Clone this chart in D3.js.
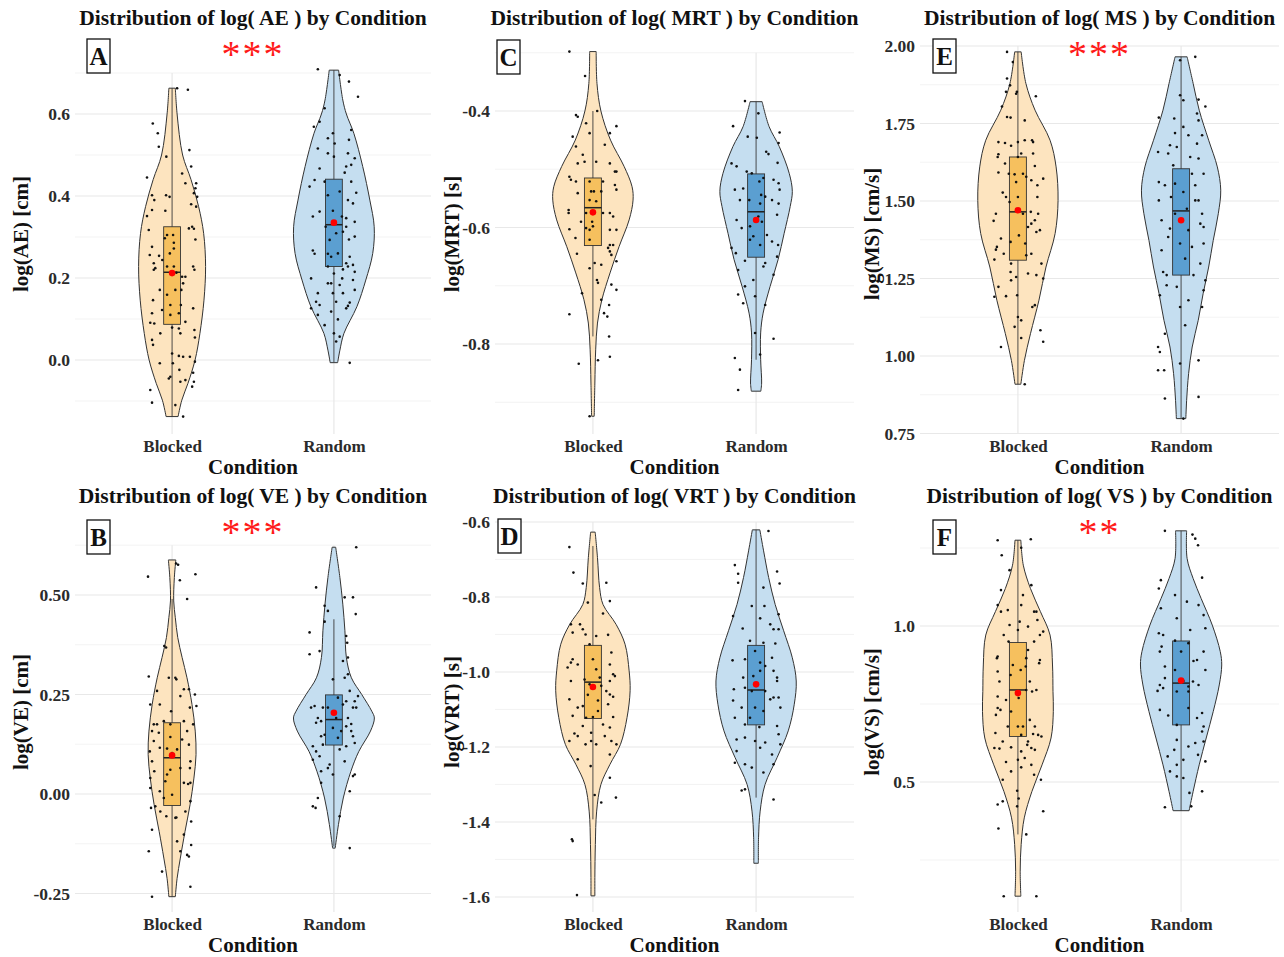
<!DOCTYPE html>
<html>
<head>
<meta charset="utf-8">
<script src="https://cdnjs.cloudflare.com/ajax/libs/d3/7.8.5/d3.min.js"></script>
<style>
  body { margin: 0; background: #fff; }
  text { font-family: "Liberation Serif", "Times New Roman", serif; font-weight: bold; }
</style>
</head>
<body>
<div id="chart"></div>
<script>
// ---------- data ----------
const conditions = ["Blocked", "Random"]
const panelLetters = ["A", "C", "E", "B", "D", "F"]
const metrics = ["AE", "MRT", "MS", "VE", "VRT", "VS"]
const units = ["cm", "s", "cm/s", "cm", "s", "cm/s"]
const stars = ["***", "", "***", "***", "", "**"]

const yLimits = [
  [-0.1805, 0.7976], [-0.9545, -0.2661], [0.7484, 2.0419],
  [-0.2965, 0.711], [-1.64, -0.5707], [0.0833, 1.3686]
]
const majorTicks = [
  [0, 0.2, 0.4, 0.6], [-0.8, -0.6, -0.4], [0.75, 1, 1.25, 1.5, 1.75, 2],
  [-0.25, 0, 0.25, 0.5], [-1.6, -1.4, -1.2, -1, -0.8, -0.6], [0.5, 1]
]
const tickLabels = [
  ["0.0", "0.2", "0.4", "0.6"], ["-0.8", "-0.6", "-0.4"], ["0.75", "1.00", "1.25", "1.50", "1.75", "2.00"],
  ["-0.25", "0.00", "0.25", "0.50"], ["-1.6", "-1.4", "-1.2", "-1.0", "-0.8", "-0.6"], ["0.5", "1.0"]
]
const minorTicks = [
  [-0.1, 0.1, 0.3, 0.5, 0.7], [-0.9, -0.7, -0.5, -0.3], [0.875, 1.125, 1.375, 1.625, 1.875],
  [-0.125, 0.125, 0.375, 0.625], [-1.5, -1.3, -1.1, -0.9, -0.7], [0.25, 0.75, 1.25]
]

// violin outline: [value, half width as share of category step]
const violinBlocked = [
  [[0.663,0.02],[0.6,0.031],[0.5,0.065],[0.44,0.117],[0.374,0.164],[0.309,0.195],[0.228,0.207],[0.146,0.197],[0.065,0.172],[0,0.142],[-0.057,0.098],[-0.098,0.06],[-0.138,0.037]],
  [[-0.298,0.02],[-0.353,0.025],[-0.4,0.049],[-0.45,0.108],[-0.495,0.191],[-0.53,0.24],[-0.553,0.246],[-0.587,0.222],[-0.633,0.16],[-0.678,0.105],[-0.724,0.055],[-0.764,0.028],[-0.81,0.017],[-0.867,0.012],[-0.924,0.008]],
  [[1.981,0.02],[1.879,0.049],[1.793,0.105],[1.696,0.197],[1.61,0.234],[1.502,0.246],[1.395,0.228],[1.287,0.172],[1.18,0.129],[1.072,0.077],[0.986,0.04],[0.909,0.018]],
  [[0.588,0.023],[0.544,0.014],[0.485,0.01],[0.443,0.02],[0.393,0.035],[0.343,0.062],[0.292,0.092],[0.225,0.123],[0.158,0.143],[0.099,0.148],[0.04,0.135],[-0.027,0.111],[-0.094,0.08],[-0.161,0.051],[-0.212,0.031],[-0.258,0.02]],
  [[-0.627,0.014],[-0.695,0.028],[-0.775,0.041],[-0.82,0.062],[-0.873,0.142],[-0.926,0.197],[-0.997,0.222],[-1.05,0.228],[-1.122,0.209],[-1.193,0.169],[-1.246,0.105],[-1.3,0.049],[-1.371,0.023],[-1.46,0.015],[-1.548,0.012],[-1.597,0.012]],
  [[1.275,0.018],[1.195,0.033],[1.12,0.077],[1.046,0.138],[0.971,0.197],[0.875,0.212],[0.79,0.215],[0.726,0.217],[0.641,0.203],[0.555,0.148],[0.47,0.086],[0.385,0.039],[0.3,0.02],[0.214,0.014],[0.134,0.018]]
]
const violinRandom = [
  [[0.707,0.029],[0.634,0.055],[0.6,0.077],[0.553,0.123],[0.472,0.178],[0.39,0.222],[0.325,0.249],[0.26,0.24],[0.195,0.197],[0.13,0.142],[0.065,0.062],[0.024,0.037],[-0.0065,0.023]],
  [[-0.384,0.037],[-0.427,0.08],[-0.461,0.142],[-0.507,0.203],[-0.538,0.222],[-0.564,0.209],[-0.61,0.172],[-0.655,0.135],[-0.701,0.086],[-0.747,0.043],[-0.781,0.028],[-0.827,0.028],[-0.867,0.034],[-0.881,0.029]],
  [[1.965,0.037],[1.879,0.074],[1.793,0.111],[1.696,0.169],[1.61,0.222],[1.535,0.243],[1.459,0.228],[1.373,0.197],[1.287,0.169],[1.201,0.135],[1.115,0.105],[1.029,0.068],[0.943,0.046],[0.857,0.034],[0.798,0.029]],
  [[0.62,0.011],[0.544,0.037],[0.477,0.055],[0.41,0.068],[0.343,0.077],[0.292,0.108],[0.25,0.172],[0.208,0.234],[0.191,0.25],[0.158,0.226],[0.107,0.154],[0.057,0.105],[-0.01,0.058],[-0.077,0.028],[-0.136,0.008]],
  [[-0.621,0.023],[-0.677,0.046],[-0.748,0.077],[-0.82,0.117],[-0.89,0.169],[-0.962,0.222],[-1.024,0.246],[-1.086,0.234],[-1.157,0.197],[-1.228,0.129],[-1.3,0.055],[-1.371,0.025],[-1.442,0.015],[-1.51,0.014]],
  [[1.305,0.034],[1.216,0.037],[1.152,0.074],[1.088,0.123],[1.003,0.191],[0.918,0.24],[0.875,0.249],[0.811,0.234],[0.726,0.197],[0.641,0.154],[0.555,0.111],[0.47,0.074],[0.408,0.049]]
]

// box: [lower whisker, q1, median, q3, upper whisker]
const boxBlocked = [
  [-0.138, 0.087, 0.214, 0.325, 0.663], [-0.787, -0.631, -0.566, -0.515, -0.4], [0.909, 1.309, 1.465, 1.642, 1.981],
  [-0.258, -0.029, 0.091, 0.179, 0.49], [-1.393, -1.124, -1.027, -0.929, -0.664], [0.332, 0.646, 0.795, 0.947, 1.275]
]
const boxRandom = [
  [-0.005, 0.228, 0.33, 0.441, 0.707], [-0.827, -0.651, -0.573, -0.508, -0.384], [0.798, 1.261, 1.468, 1.604, 1.965],
  [-0.132, 0.123, 0.187, 0.249, 0.439], [-1.335, -1.141, -1.048, -0.929, -0.621], [0.408, 0.683, 0.817, 0.952, 1.305]
]
const meanBlocked = [0.212, -0.574, 1.47, 0.097, -1.04, 0.785]
const meanRandom = [0.335, -0.587, 1.438, 0.204, -1.033, 0.825]

// raw observations: [jitter (-1..1), value]
const pointsBlocked = [
  [[0.2,0.663],[0.63,0.659],[-0.77,0.577],[-0.57,0.553],[-0.53,0.52],[0.69,0.512],[-0.23,0.496],[-1,0.445],[0.4,0.455],[0.76,0.472],[0.53,0.431],[0.96,0.431],[0.93,0.419],[-0.8,0.402],[-0.24,0.402],[-0.1,0.398],[0.87,0.407],[1,0.398],[-0.71,0.39],[-0.27,0.364],[-0.8,0.366],[0.76,0.38],[-1,0.351],[0.96,0.374],[0.8,0.325],[0.67,0.321],[0.87,0.32],[-0.93,0.317],[-0.2,0.305],[0.04,0.305],[-0.29,0.297],[0.07,0.286],[0.93,0.294],[-0.8,0.276],[-0.89,0.256],[-0.52,0.254],[-0.09,0.26],[0.07,0.272],[-0.73,0.236],[-0.67,0.224],[-0.39,0.244],[0.84,0.228],[0.89,0.22],[-0.73,0.22],[-0.2,0.228],[0.07,0.228],[0.17,0.213],[0.4,0.203],[0.53,0.203],[0.44,0.187],[0.37,0.171],[0.13,0.171],[-0.49,0.171],[-0.76,0.146],[-0.2,0.159],[-0.07,0.134],[0.35,0.134],[0.27,0.114],[-0.07,0.11],[-0.4,0.122],[-0.8,0.114],[0.84,0.126],[0.53,0.093],[-0.87,0.091],[-0.71,0.089],[0,0.079],[-0.47,0.065],[0.89,0.073],[0.27,0.077],[-0.8,0.049],[0.33,0.065],[-0.76,0.037],[0.91,0.055],[0,0.016],[0.27,0.01],[0.44,0.008],[0.71,0.008],[-0.49,-0.008],[0.03,-0.008],[0.91,-0.004],[0.29,-0.024],[-0.07,-0.041],[0.84,-0.031],[0.33,-0.053],[0.53,-0.049],[0.87,-0.053],[-0.87,-0.073],[0.8,-0.065],[-0.13,-0.045],[-0.8,-0.104],[0.13,-0.11],[0.44,-0.138]],
  [[-0.93,-0.298],[-0.31,-0.34],[-0.67,-0.407],[-0.6,-0.41],[0.17,-0.4],[0.93,-0.426],[-0.8,-0.444],[-0.27,-0.421],[-0.13,-0.438],[-0.67,-0.461],[0.47,-0.458],[0.67,-0.438],[-0.4,-0.475],[0.13,-0.487],[-0.6,-0.49],[-0.33,-0.487],[0.67,-0.49],[0.87,-0.504],[0.93,-0.504],[-0.93,-0.513],[-0.87,-0.518],[-0.67,-0.521],[-0.13,-0.521],[0.4,-0.521],[0.33,-0.538],[0.87,-0.527],[-0.07,-0.538],[0.04,-0.538],[-0.6,-0.541],[0.93,-0.535],[-0.13,-0.553],[-0.96,-0.57],[-0.96,-0.575],[-0.27,-0.575],[0.13,-0.555],[0.4,-0.575],[0.67,-0.575],[0.8,-0.581],[-0.03,-0.59],[-0.47,-0.59],[-0.93,-0.603],[-0.27,-0.601],[0,-0.598],[-0.13,-0.604],[0.67,-0.604],[0.93,-0.604],[-0.69,-0.618],[-0.13,-0.621],[0.67,-0.63],[0.8,-0.63],[0.6,-0.635],[0.67,-0.641],[0.73,-0.647],[-0.63,-0.645],[0.93,-0.658],[-0.13,-0.67],[0.07,-0.661],[0.33,-0.664],[-0.43,-0.713],[0.16,-0.69],[0.2,-0.695],[0.73,-0.698],[0.93,-0.707],[0.33,-0.724],[0.44,-0.747],[0.64,-0.733],[0.57,-0.753],[-0.93,-0.749],[0.64,-0.787],[0.67,-0.822],[-0.56,-0.834],[0.2,-0.828],[-0.13,-0.924]],
  [[-0.43,1.981],[-0.2,1.948],[-0.43,1.895],[-0.31,1.873],[-0.47,1.852],[-0.04,1.852],[0.71,1.838],[-0.07,1.846],[-0.63,1.805],[-0.43,1.771],[-0.29,1.769],[0.27,1.76],[0.27,1.696],[-0.77,1.69],[-0.51,1.687],[0,1.69],[0.56,1.696],[0.6,1.69],[-0.27,1.678],[-0.77,1.651],[-0.8,1.642],[0.13,1.653],[0.6,1.653],[-0.51,1.621],[0,1.642],[0.67,1.613],[-0.77,1.592],[-0.36,1.588],[-0.13,1.586],[0.2,1.588],[0.33,1.578],[0.53,1.567],[1,1.572],[0.77,1.551],[-0.07,1.561],[-0.6,1.527],[-0.47,1.513],[0,1.513],[-0.33,1.497],[0.77,1.513],[-0.87,1.459],[-0.96,1.436],[0.2,1.459],[0.51,1.465],[0.8,1.459],[0.67,1.438],[0.53,1.427],[0.87,1.406],[0.73,1.4],[0.4,1.416],[-0.67,1.379],[-0.83,1.352],[-0.29,1.368],[0.04,1.389],[0.29,1.363],[-0.87,1.343],[-0.56,1.33],[0.33,1.325],[0.53,1.33],[-0.93,1.311],[-0.27,1.298],[0.93,1.298],[-0.29,1.271],[-0.07,1.255],[-0.27,1.244],[0.4,1.266],[0.73,1.261],[1,1.25],[-0.77,1.223],[-0.93,1.191],[-0.47,1.193],[-0.03,1.196],[0.67,1.164],[0.57,1.158],[0,1.126],[0.13,1.115],[-0.13,1.094],[0.89,1.083],[-0.67,1.029],[1,1.046],[0.13,1.058],[0.27,0.909]],
  [[0.16,0.579],[0.24,0.576],[-0.96,0.546],[0.93,0.552],[0.31,0.537],[0.6,0.49],[-0.31,0.372],[-0.24,0.368],[-0.93,0.295],[-0.87,0.225],[-0.13,0.292],[0.13,0.292],[0.17,0.288],[0.47,0.263],[0.67,0.263],[0.91,0.25],[-0.6,0.259],[-0.49,0.225],[0.33,0.246],[-0.04,0.208],[0.71,0.217],[0.97,0.221],[-0.73,0.175],[-0.6,0.175],[-0.33,0.183],[-0.07,0.175],[0.47,0.183],[0.84,0.175],[0.4,0.137],[-0.8,0.158],[-0.73,0.133],[-0.53,0.154],[-0.07,0.143],[0.6,0.158],[0.67,0.124],[-0.49,0.116],[-0.89,0.107],[-0.2,0.114],[0,0.103],[0.2,0.112],[0.73,0.082],[-0.8,0.082],[-0.71,0.057],[0.33,0.065],[0.71,0.065],[-0.07,0.061],[-0.2,0.049],[-0.87,0.04],[0.73,0.028],[-0.27,0.032],[0.47,0.028],[0.64,0.025],[-0.87,0.015],[-0.49,0.007],[0,-0.002],[-0.33,-0.01],[-0.84,-0.035],[-0.67,-0.031],[0.73,-0.018],[-0.47,-0.044],[-0.23,-0.056],[0.17,-0.059],[0.13,-0.06],[0.53,-0.044],[0.76,-0.069],[-0.8,-0.09],[0.47,-0.102],[0.76,-0.128],[0.2,-0.119],[0.33,-0.144],[0.6,-0.153],[0.67,-0.157],[-0.93,-0.144],[-0.4,-0.195],[0.73,-0.233],[-0.8,-0.258]],
  [[-0.93,-0.667],[-0.77,-0.735],[-0.4,-0.764],[0.53,-0.762],[-0.2,-0.815],[0.67,-0.811],[0.4,-0.844],[-0.51,-0.873],[-0.87,-0.873],[-0.8,-0.895],[-0.4,-0.886],[-0.29,-0.9],[0.13,-0.904],[0.6,-0.901],[0.73,-0.948],[-0.13,-0.926],[-0.8,-0.966],[-0.6,-0.98],[-0.87,-0.975],[0,-0.966],[0.67,-0.98],[0.13,-0.993],[0.8,-1.006],[-1,-0.988],[-0.87,-1.024],[-0.33,-1.02],[0.27,-1.015],[0.87,-1.011],[-0.13,-1.033],[0.67,-1.024],[0.33,-1.037],[0.53,-1.051],[-0.2,-1.061],[0.67,-1.06],[0.8,-1.066],[-0.93,-1.073],[0.2,-1.076],[0.6,-1.086],[-0.4,-1.091],[-0.6,-1.095],[-0.8,-1.117],[0.2,-1.104],[-0.27,-1.122],[0,-1.12],[0.8,-1.12],[0.67,-1.148],[-0.4,-1.144],[0.4,-1.14],[-0.73,-1.164],[-0.93,-1.184],[-0.6,-1.171],[-0.07,-1.162],[0.47,-1.171],[0.73,-1.184],[-0.29,-1.193],[-0.07,-1.184],[0.13,-1.193],[0.93,-1.193],[-0.6,-1.233],[0.67,-1.22],[-0.09,-1.251],[0.67,-1.282],[0.07,-1.328],[0.33,-1.348],[0.91,-1.335],[-0.83,-1.446],[-0.8,-1.451],[-0.63,-1.595]],
  [[-0.8,1.275],[0.51,1.278],[-0.64,1.227],[0.13,1.251],[-0.33,1.179],[-0.67,1.115],[0.53,1.131],[0.2,1.099],[-0.8,1.067],[0.13,1.067],[-0.4,1.051],[-0.67,1.046],[0.64,1.046],[0.73,1.046],[0.77,1.019],[-0.33,1.003],[0.07,1.014],[0.4,0.998],[1,0.982],[0.87,0.971],[0,0.987],[-0.56,0.971],[-0.37,0.95],[0.64,0.95],[0.4,0.923],[0.33,0.897],[-0.8,0.902],[-0.83,0.897],[0.87,0.891],[0.84,0.881],[-0.2,0.875],[0.31,0.87],[0.11,0.859],[-0.8,0.854],[-0.29,0.843],[-0.73,0.822],[0.47,0.822],[0.73,0.795],[0.33,0.795],[-0.8,0.774],[0,0.79],[0.03,0.769],[-0.47,0.763],[0.56,0.79],[-0.8,0.737],[-0.69,0.731],[-0.87,0.715],[-0.27,0.726],[0.47,0.699],[-0.4,0.678],[0,0.678],[0.2,0.678],[0.67,0.678],[-0.89,0.657],[0.13,0.651],[0.6,0.654],[0.8,0.651],[0.93,0.646],[-0.6,0.63],[0.4,0.63],[0.37,0.619],[0.53,0.609],[-0.93,0.609],[-0.73,0.607],[-0.27,0.611],[0.13,0.598],[0.67,0.603],[-0.47,0.564],[0,0.571],[0.27,0.577],[0.13,0.547],[0.53,0.555],[-0.27,0.534],[0.64,0.523],[0.91,0.507],[-0.6,0.507],[-0.03,0.472],[0.03,0.447],[-0.8,0.428],[-0.6,0.438],[-0.03,0.422],[1,0.406],[-0.77,0.351],[0.33,0.332],[-0.56,0.134],[0.73,0.134]]
]
const pointsRandom = [
  [[-0.64,0.709],[0.23,0.695],[0.6,0.679],[0.96,0.642],[-0.37,0.614],[-0.57,0.581],[-0.8,0.569],[-0.04,0.553],[0.69,0.561],[-0.24,0.541],[0.6,0.537],[-0.64,0.516],[0.56,0.504],[0,0.496],[0.83,0.492],[0.69,0.476],[0.49,0.472],[-0.57,0.467],[0.43,0.457],[0.03,0.528],[-0.24,0.504],[-0.77,0.439],[-0.37,0.435],[0.69,0.435],[0.89,0.408],[0.23,0.411],[-0.97,0.423],[-0.24,0.402],[0.56,0.39],[0.76,0.382],[-0.84,0.35],[-0.57,0.362],[-0.04,0.364],[0.32,0.35],[0.49,0.346],[0.83,0.337],[-0.33,0.325],[0.49,0.325],[0.36,0.313],[0.6,0.294],[0.09,0.309],[-0.17,0.293],[0.83,0.301],[-0.84,0.267],[-0.77,0.259],[-0.24,0.259],[-0.11,0.252],[0.16,0.26],[0.63,0.252],[0.49,0.236],[0.76,0.232],[-0.24,0.228],[0.36,0.221],[0.56,0.228],[0,0.211],[0.83,0.215],[-0.91,0.199],[-0.24,0.187],[-0.11,0.187],[0.23,0.183],[0.33,0.199],[0.76,0.195],[-0.64,0.163],[0.36,0.163],[-0.04,0.163],[0.83,0.171],[-0.71,0.142],[0.09,0.142],[0.63,0.14],[-0.91,0.126],[-0.64,0.11],[-0.57,0.134],[0.56,0.132],[0.49,0.126],[-0.37,0.085],[-0.11,0.118],[0.16,0.099],[0,0.065],[0.23,0.057],[0.09,0.045],[0.63,-0.007]],
  [[-0.44,-0.383],[0.09,-0.404],[-0.91,-0.426],[0.93,-0.437],[0.89,-0.455],[-0.33,-0.444],[0.03,-0.446],[0.4,-0.47],[0.49,-0.474],[0.85,-0.489],[-0.97,-0.49],[-0.77,-0.495],[-0.37,-0.504],[-0.17,-0.507],[0.29,-0.515],[0.69,-0.518],[0.89,-0.524],[0.93,-0.535],[0.13,-0.521],[-0.84,-0.535],[-0.51,-0.533],[0.2,-0.544],[-0.64,-0.553],[0.36,-0.547],[0.63,-0.553],[-0.27,-0.553],[0.16,-0.559],[0.89,-0.559],[0.83,-0.578],[-0.77,-0.587],[-0.57,-0.601],[-0.24,-0.598],[0.09,-0.581],[0.23,-0.59],[-0.11,-0.615],[0.43,-0.613],[0.87,-0.63],[0.63,-0.624],[-0.97,-0.635],[-0.8,-0.644],[-0.24,-0.621],[0.16,-0.63],[0.83,-0.65],[-0.44,-0.657],[0.29,-0.667],[0.36,-0.661],[-0.71,-0.673],[-0.11,-0.69],[-0.44,-0.701],[-0.71,-0.715],[0.69,-0.681],[-0.04,-0.718],[-0.51,-0.73],[0.36,-0.733],[0.69,-0.791],[-0.04,-0.781],[-0.84,-0.824],[-0.64,-0.844],[0.16,-0.818],[-0.71,-0.879]],
  [[0.56,1.965],[-0.04,1.954],[-0.04,1.841],[0.09,1.825],[0.69,1.827],[0.96,1.805],[0.63,1.782],[-0.27,1.766],[0.69,1.76],[-0.88,1.769],[0.09,1.739],[-0.24,1.719],[0.29,1.712],[0.83,1.712],[0.63,1.685],[-0.44,1.68],[-0.17,1.674],[-0.91,1.658],[-0.51,1.653],[0.36,1.642],[0.69,1.637],[-0.31,1.615],[0.43,1.588],[0.89,1.588],[-0.88,1.561],[-0.64,1.551],[-0.24,1.556],[0.56,1.551],[0.09,1.529],[0.56,1.502],[0.69,1.502],[0.83,1.459],[-0.88,1.502],[-0.4,1.513],[-0.24,1.459],[-0.77,1.438],[0.23,1.475],[0.76,1.427],[0.89,1.416],[-0.44,1.411],[0.29,1.406],[-0.51,1.384],[-0.04,1.363],[0.89,1.363],[0.43,1.352],[-0.77,1.341],[0.16,1.314],[0.76,1.298],[-0.71,1.271],[-0.57,1.261],[0.49,1.261],[0.96,1.244],[-0.57,1.228],[-0.17,1.223],[0.89,1.212],[-0.84,1.196],[0.29,1.18],[0.83,1.158],[-0.04,1.158],[-0.64,1.072],[-0.91,1.029],[-0.84,1.013],[0.16,1.099],[-0.04,0.976],[0.69,0.986],[-0.91,0.954],[-0.67,0.954],[-0.64,0.863],[0.69,0.868],[0.09,0.798]],
  [[0.89,0.62],[-0.71,0.519],[0.43,0.494],[0.76,0.494],[-0.37,0.473],[-0.24,0.46],[-0.37,0.433],[0.87,0.452],[-0.97,0.406],[0.49,0.397],[0.53,0.38],[-0.57,0.359],[-0.97,0.351],[0.56,0.343],[0.36,0.334],[0.43,0.292],[0.56,0.301],[-0.04,0.288],[0.63,0.259],[0.16,0.242],[0.49,0.233],[0.83,0.233],[0.96,0.246],[-0.77,0.221],[-0.91,0.217],[-0.44,0.217],[-0.24,0.217],[0.36,0.225],[0.76,0.217],[0.89,0.217],[-0.64,0.191],[-0.71,0.179],[-0.51,0.183],[0.09,0.191],[0.56,0.191],[0.69,0.176],[-0.04,0.166],[0.29,0.158],[-0.37,0.149],[-0.51,0.145],[0.16,0.141],[0.49,0.17],[0.69,0.158],[0.76,0.145],[0.83,0.128],[-0.84,0.12],[-0.71,0.107],[-0.44,0.124],[0.49,0.12],[0.23,0.112],[-0.57,0.095],[-0.84,0.086],[-0.17,0.074],[-0.24,0.065],[0.43,0.082],[-0.51,0.057],[-0.04,0.049],[0.83,0.049],[0.76,0.045],[-0.51,0.028],[0.63,0.007],[-0.64,-0.01],[-0.84,-0.031],[-0.73,-0.035],[0.23,-0.056],[0.63,-0.136]],
  [[0.49,-0.624],[-0.84,-0.715],[0.83,-0.732],[-0.71,-0.738],[0.93,-0.764],[-0.71,-0.762],[0.29,-0.775],[-0.17,-0.824],[0.33,-0.824],[0.16,-0.857],[0.89,-0.846],[-0.91,-0.851],[-0.53,-0.884],[0.56,-0.873],[0.69,-0.886],[0.89,-0.886],[-0.24,-0.917],[0.29,-0.922],[-0.04,-0.944],[0.76,-0.924],[-0.93,-0.969],[-0.44,-0.966],[0.16,-0.975],[0.63,-0.962],[0.36,-0.984],[-0.51,-1.015],[-0.11,-1.011],[0.16,-0.997],[0.69,-0.997],[0.83,-1.015],[-0.88,-1.046],[-0.44,-1.042],[-0.17,-1.051],[0.83,-1.024],[0.36,-1.051],[0.89,-1.068],[-0.91,-1.076],[-0.57,-1.095],[-0.04,-1.095],[0.56,-1.073],[0.69,-1.068],[0.96,-1.095],[0.29,-1.104],[-0.84,-1.122],[-0.44,-1.14],[-0.24,-1.122],[0.83,-1.144],[0.13,-1.147],[-0.77,-1.18],[-0.44,-1.175],[-0.04,-1.184],[0.36,-1.188],[0.89,-1.166],[0.96,-1.193],[0.16,-1.202],[0.63,-1.22],[-0.77,-1.211],[-0.44,-1.246],[-0.84,-1.242],[-0.17,-1.255],[0.29,-1.268],[0.69,-1.246],[-0.57,-1.316],[-0.44,-1.313],[0.69,-1.34]],
  [[-0.64,1.305],[0.45,1.293],[0.56,1.28],[0.67,1.259],[0.83,1.155],[-0.8,1.147],[-0.88,1.12],[-0.24,1.099],[0.23,1.078],[0.69,1.067],[0.89,1.035],[-0.8,1.057],[-0.17,1.025],[-0.88,0.977],[-0.71,0.971],[0.36,0.987],[0.96,0.993],[-0.24,0.953],[0.29,0.945],[0.89,0.918],[-0.84,0.918],[-0.77,0.934],[0,0.918],[0.63,0.891],[0.49,0.888],[-0.64,0.87],[0.96,0.859],[-0.24,0.859],[-0.64,0.833],[0.09,0.824],[0.47,0.822],[-0.84,0.811],[-0.71,0.801],[-0.93,0.792],[-0.17,0.79],[0.29,0.806],[0.69,0.811],[0.29,0.79],[-0.84,0.731],[0.29,0.737],[-0.51,0.713],[0.83,0.721],[0.89,0.678],[0.83,0.662],[0.63,0.705],[-0.17,0.683],[-0.17,0.635],[0.56,0.625],[0.29,0.614],[-0.27,0.603],[0.89,0.63],[-0.53,0.582],[0.09,0.571],[0.67,0.587],[0.96,0.566],[-0.17,0.555],[-0.44,0.534],[-0.17,0.518],[0.09,0.513],[0.33,0.465],[0.83,0.47],[-0.64,0.419],[0.4,0.422]]
]

// ---------- layout ----------
let colX = [[75, 431], [495, 854], [920, 1279]]
let rowY = [[434, 33], [912, 511]]
let letterPos = [[87, 39], [497, 40], [933, 39], [87, 520], [498, 519], [933, 520]]
let yTitleX = [21, 452, 872]
let violinFill = {Blocked: "#fde4bf", Random: "#c5def0"}
let boxFill = {Blocked: "#f6c05e", Random: "#5b9fd1"}
let jitterWidth = 0.155
let boxHalf = 0.052

let svg = d3.select("#chart")
  .append("svg")
  .attr("width", 1284)
  .attr("height", 957)

panelLetters.forEach((letter, i) => {
  let col = i % 3, row = Math.floor(i / 3)
  let [x0, x1] = colX[col]
  let [yb, yt] = rowY[row]
  let off = row * 478

  let x = d3.scalePoint().domain(conditions).range([x0, x1]).padding(0.6)
  let y = d3.scaleLinear().domain(yLimits[i]).range([yb, yt])
  let step = x.step()
  let g = svg.append("g")

  // grid
  let topTick = d3.max(majorTicks[i].concat(minorTicks[i]))
  g.selectAll(".minor").data(minorTicks[i]).enter().append("line")
    .attr("x1", x0).attr("x2", x1)
    .attr("y1", d => y(d)).attr("y2", d => y(d))
    .attr("stroke", "#f0f0f0").attr("stroke-width", 0.8)
  g.selectAll(".major").data(majorTicks[i]).enter().append("line")
    .attr("x1", x0).attr("x2", x1)
    .attr("y1", d => y(d)).attr("y2", d => y(d))
    .attr("stroke", "#e8e8e8").attr("stroke-width", 1.2)
  g.selectAll(".vgrid").data(conditions).enter().append("line")
    .attr("x1", d => x(d)).attr("x2", d => x(d))
    .attr("y1", y(topTick)).attr("y2", yb)
    .attr("stroke", "#e8e8e8").attr("stroke-width", 1.2)

  // axes
  let ya = g.append("g")
    .attr("transform", "translate(" + x0 + ",0)")
    .call(d3.axisLeft(y).tickValues(majorTicks[i]).tickFormat((d, k) => tickLabels[i][k]).tickSize(0).tickPadding(5))
  ya.select(".domain").remove()
  ya.selectAll("text").style("font-size", "17.5px").attr("fill", "#2b2b2b")
    .style("font-family", "Liberation Serif").style("font-weight", "bold")

  let xa = g.append("g")
    .attr("transform", "translate(0," + yb + ")")
    .call(d3.axisBottom(x).tickSize(0).tickPadding(6))
  xa.select(".domain").remove()
  xa.selectAll("text").style("font-size", "17px").attr("fill", "#2b2b2b")
    .style("font-family", "Liberation Serif").style("font-weight", "bold")

  // violins, boxes, points
  conditions.forEach(c => {
    let cx = x(c)
    let prof = (c == "Blocked" ? violinBlocked : violinRandom)[i]
    let box = (c == "Blocked" ? boxBlocked : boxRandom)[i]
    let mean = (c == "Blocked" ? meanBlocked : meanRandom)[i]
    let pts = (c == "Blocked" ? pointsBlocked : pointsRandom)[i]

    let area = d3.area()
      .curve(d3.curveCatmullRom.alpha(0.5))
      .y(d => y(d[0]))
      .x0(d => cx - d[1] * step)
      .x1(d => cx + d[1] * step)
    g.append("path")
      .attr("d", area(prof) + "Z")
      .attr("fill", violinFill[c])
      .attr("stroke", "#333")
      .attr("stroke-width", 1)

    // whisker
    g.append("line")
      .attr("x1", cx).attr("x2", cx)
      .attr("y1", y(box[0])).attr("y2", y(box[4]))
      .attr("stroke", "#3a3a3a").attr("stroke-width", 0.9)
    // box
    g.append("rect")
      .attr("x", cx - boxHalf * step)
      .attr("width", 2 * boxHalf * step)
      .attr("y", y(box[3]))
      .attr("height", y(box[1]) - y(box[3]))
      .attr("fill", boxFill[c])
      .attr("stroke", "#333")
      .attr("stroke-width", 0.9)
    g.append("line")
      .attr("x1", cx - boxHalf * step).attr("x2", cx + boxHalf * step)
      .attr("y1", y(box[2])).attr("y2", y(box[2]))
      .attr("stroke", "#222").attr("stroke-width", 1.5)

    g.selectAll(".pt" + c).data(pts).enter().append("circle")
      .attr("cx", d => cx + d[0] * jitterWidth * step)
      .attr("cy", d => y(d[1]))
      .attr("r", 1.3)
      .attr("fill", "#111")

    g.append("circle")
      .attr("cx", cx).attr("cy", y(mean))
      .attr("r", 3.3)
      .attr("fill", "#ff0000")
  })

  // titles
  g.append("text")
    .attr("x", (x0 + x1) / 2).attr("y", 25 + off)
    .text("Distribution of log( " + metrics[i] + " ) by Condition")
    .style("font-size", "21.5px")
    .style("text-anchor", "middle")
    .attr("fill", "#111")

  g.append("text")
    .attr("x", (x0 + x1) / 2).attr("y", 474 + off)
    .text("Condition")
    .style("font-size", "21px")
    .style("text-anchor", "middle")
    .attr("fill", "#111")

  g.append("text")
    .attr("transform", "translate(" + yTitleX[col] + "," + (234 + off) + ") rotate(-90)")
    .attr("dy", "0.35em")
    .text("log(" + metrics[i] + ") [" + units[i] + "]")
    .style("font-size", "21px")
    .style("text-anchor", "middle")
    .attr("fill", "#111")

  // panel letter
  let [lx, ly] = letterPos[i]
  g.append("rect")
    .attr("x", lx).attr("y", ly)
    .attr("width", 23).attr("height", 34)
    .attr("fill", "#fff").attr("stroke", "#111").attr("stroke-width", 1.3)
  g.append("text")
    .attr("x", lx + 11.5).attr("y", ly + 26)
    .text(letter)
    .style("font-size", "25px")
    .style("text-anchor", "middle")
    .attr("fill", "#111")

  // significance
  if (stars[i]) {
    g.append("text")
      .attr("x", (x0 + x1) / 2).attr("y", 67 + off)
      .text(stars[i])
      .style("font-size", "38px")
      .style("font-weight", "normal")
      .style("letter-spacing", "2px")
      .style("text-anchor", "middle")
      .attr("fill", "#ff1a1a")
  }
})
</script>
</body>
</html>
